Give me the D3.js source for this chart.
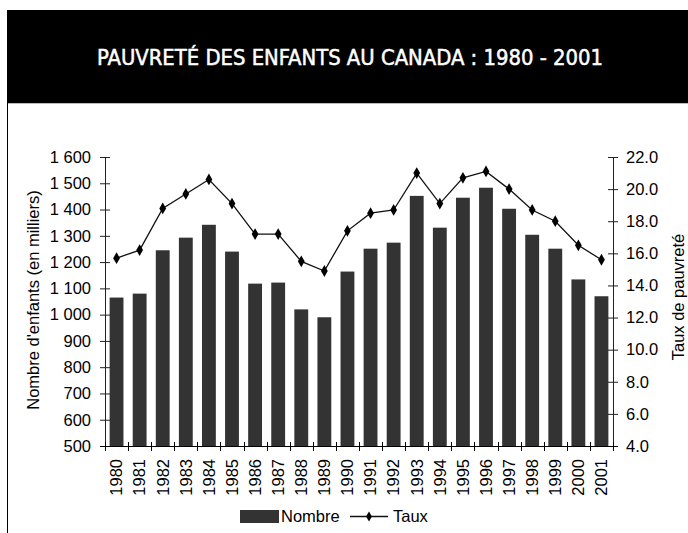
<!DOCTYPE html>
<html>
<head>
<meta charset="utf-8">
<script src="https://cdn.jsdelivr.net/npm/d3@7"></script>
<style>
    body { margin: 0; background: #ffffff; }
    svg { display: block; }
    .tick-label { font-family: "Liberation Sans", Arial, sans-serif; font-size: 16.5px; fill: #000; }
    .label { font-family: "Liberation Sans", Arial, sans-serif; font-size: 16.5px; fill: #000; }
    .title { font-family: "Liberation Sans Narrow", "DejaVu Sans Condensed", sans-serif; font-size: 21.5px; fill: #fff; stroke: #fff; stroke-width: 0.5px; }
</style>
</head>
<body>
<svg id="chart" width="688" height="533"></svg>
<script>
// Years on the category axis
var years = ["1980", "1981", "1982", "1983", "1984", "1985", "1986", "1987", "1988", "1989", "1990",
             "1991", "1992", "1993", "1994", "1995", "1996", "1997", "1998", "1999", "2000", "2001"];

// Number of poor children (thousands)
var nombre = [1065, 1080, 1245, 1293, 1342, 1240, 1118, 1122, 1020, 990, 1164,
              1251, 1274, 1452, 1331, 1445, 1483, 1403, 1304, 1251, 1134, 1070];

// Child poverty rate (%)
var taux = [15.7, 16.2, 18.8, 19.7, 20.6, 19.1, 17.2, 17.2, 15.5, 14.9, 17.4,
            18.5, 18.7, 21.0, 19.1, 20.7, 21.1, 20.0, 18.7, 18.0, 16.5, 15.6];

// Tick values for both value axes
var leftTicks = [500, 600, 700, 800, 900, 1000, 1100, 1200, 1300, 1400, 1500, 1600];
var rightTicks = [4, 6, 8, 10, 12, 14, 16, 18, 20, 22];

var svg = d3.select("#chart");

// Header band and white panel
svg.append("rect")
    .attr("x", 7).attr("y", 10)
    .attr("width", 681).attr("height", 93)
    .attr("fill", "#000");

svg.append("line")
    .attr("x1", 7.5).attr("x2", 7.5)
    .attr("y1", 103).attr("y2", 533)
    .attr("stroke", "#000");

svg.append("line")
    .attr("x1", 8).attr("x2", 688)
    .attr("y1", 103.5).attr("y2", 103.5)
    .attr("stroke", "#bbb");

svg.append("text")
    .attr("class", "title")
    .attr("x", 350)
    .attr("y", 65)
    .attr("text-anchor", "middle")
    .attr("textLength", 506)
    .attr("lengthAdjust", "spacingAndGlyphs")
    .text("PAUVRETÉ DES ENFANTS AU CANADA : 1980 - 2001");

var plot = { left: 105, right: 613, top: 157, bottom: 446 };

var xScale = d3.scaleBand()
    .domain(years)
    .range([plot.left, plot.right])
    .paddingInner(0.4)
    .paddingOuter(0.2);

var yLeft = d3.scaleLinear()
    .domain([500, 1600])
    .range([plot.bottom, plot.top]);

var yRight = d3.scaleLinear()
    .domain([4, 22])
    .range([plot.bottom, plot.top]);

var fmtLeft = function(d) { return d3.format(",")(d).replace(",", " "); };

// Bars
svg.selectAll(".bar")
    .data(years)
    .enter()
    .append("rect")
        .attr("class", "bar")
        .attr("x", function(d) { return xScale(d); })
        .attr("y", function(d, i) { return yLeft(nombre[i]); })
        .attr("width", xScale.bandwidth())
        .attr("height", function(d, i) { return plot.bottom - yLeft(nombre[i]); })
        .attr("fill", "#333333");

// Left axis
var axisLeft = svg.append("g")
    .attr("transform", "translate(" + plot.left + ",0)")
    .call(d3.axisLeft(yLeft).tickValues(leftTicks).tickFormat(fmtLeft).tickSizeInner(5).tickSizeOuter(0));
axisLeft.selectAll(".tick line").attr("x1", 5).attr("x2", -5).attr("stroke", "#222");
axisLeft.select(".domain").attr("stroke", "#222");
axisLeft.selectAll(".tick text")
    .attr("class", "tick-label")
    .attr("x", -14)
    .attr("font-family", null).attr("font-size", null);

// Right axis
var axisRight = svg.append("g")
    .attr("transform", "translate(" + plot.right + ",0)")
    .call(d3.axisRight(yRight).tickValues(rightTicks).tickFormat(d3.format(".1f")).tickSizeInner(5).tickSizeOuter(0));
axisRight.selectAll(".tick line").attr("x1", -5).attr("x2", 5).attr("stroke", "#222");
axisRight.select(".domain").attr("stroke", "#222");
axisRight.selectAll(".tick text")
    .attr("class", "tick-label")
    .attr("x", 13)
    .attr("font-family", null).attr("font-size", null);

// Bottom axis with ticks between categories
var gap = xScale.step() * xScale.paddingInner() / 2;
var bottomAxis = svg.append("g");
bottomAxis.append("line")
    .attr("x1", plot.left - 5).attr("x2", plot.right + 5)
    .attr("y1", plot.bottom + 0.5).attr("y2", plot.bottom + 0.5)
    .attr("stroke", "#000");
var boundaries = years.map(function(d) { return xScale(d) - gap; }).concat([plot.right]);
bottomAxis.selectAll(".xtick")
    .data(boundaries)
    .enter()
    .append("line")
        .attr("x1", function(d) { return Math.round(d) + 0.5; })
        .attr("x2", function(d) { return Math.round(d) + 0.5; })
        .attr("y1", plot.bottom - 4)
        .attr("y2", plot.bottom + 5)
        .attr("stroke", "#000");
bottomAxis.selectAll(".xlabel")
    .data(years)
    .enter()
    .append("text")
        .attr("class", "tick-label")
        .attr("text-anchor", "end")
        .attr("dy", "0.35em")
        .attr("transform", function(d) {
            return "translate(" + (xScale(d) + xScale.bandwidth() / 2) + "," + (plot.bottom + 13) + ") rotate(-90)";
        })
        .text(function(d) { return d; });

// Rate line
var line = d3.line()
    .x(function(d, i) { return xScale(years[i]) + xScale.bandwidth() / 2; })
    .y(function(d) { return yRight(d); });

svg.append("path")
    .datum(taux)
    .attr("d", line)
    .attr("fill", "none")
    .attr("stroke", "#111")
    .attr("stroke-width", 1.3);

var diamond = d3.symbol().type(d3.symbolDiamond).size(40);
svg.selectAll(".marker")
    .data(taux)
    .enter()
    .append("path")
        .attr("d", diamond)
        .attr("transform", function(d, i) {
            return "translate(" + (xScale(years[i]) + xScale.bandwidth() / 2) + "," + yRight(d) + ")";
        })
        .attr("fill", "#000");

// Axis titles
svg.append("text")
    .attr("class", "label")
    .attr("transform", "translate(39," + 300 + ") rotate(-90)")
    .attr("text-anchor", "middle")
    .text("Nombre d'enfants (en milliers)");

svg.append("text")
    .attr("class", "label")
    .attr("transform", "translate(684," + 297 + ") rotate(-90)")
    .attr("text-anchor", "middle")
    .text("Taux de pauvreté");

// Legend
var legend = svg.append("g").attr("class", "legend");
legend.append("rect")
    .attr("x", 240).attr("y", 510)
    .attr("width", 39).attr("height", 13)
    .attr("fill", "#333333");
legend.append("text")
    .attr("class", "label")
    .attr("x", 281).attr("y", 522)
    .text("Nombre");
legend.append("line")
    .attr("x1", 350).attr("x2", 388)
    .attr("y1", 516.5).attr("y2", 516.5)
    .attr("stroke", "#111")
    .attr("stroke-width", 1.3);
legend.append("path")
    .attr("d", d3.symbol().type(d3.symbolDiamond).size(30))
    .attr("transform", "translate(369,516.5)")
    .attr("fill", "#000");
legend.append("text")
    .attr("class", "label")
    .attr("x", 393).attr("y", 522)
    .text("Taux");
</script>
</body>
</html>
